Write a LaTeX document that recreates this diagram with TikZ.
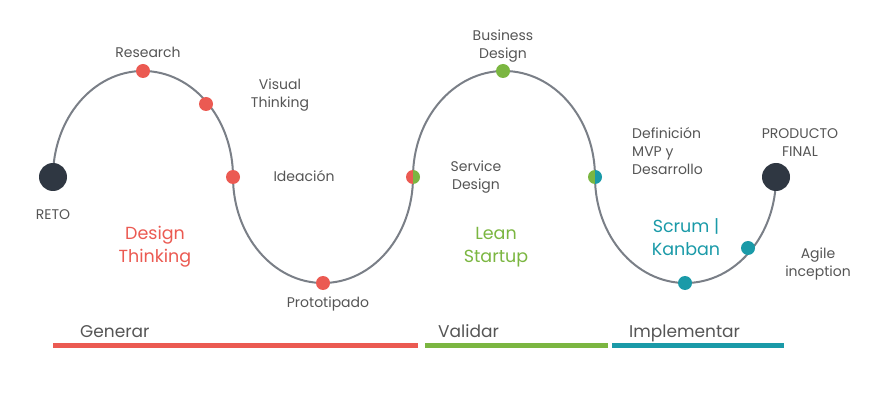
\documentclass[tikz,border=0pt]{standalone}
\usepackage{fontspec}
\setmainfont{Poppins}
\definecolor{cred}{HTML}{EB5A52}
\definecolor{cgreen}{HTML}{7BB641}
\definecolor{cteal}{HTML}{1A9AA8}
\definecolor{cdark}{HTML}{2F3742}
\definecolor{cline}{HTML}{7A7F87}
\definecolor{ctext}{HTML}{555555}
\tikzset{
  dot/.style={circle,fill=#1,inner sep=0pt,minimum size=14pt},
  bigdot/.style={circle,fill=cdark,inner sep=0pt,minimum size=28pt},
  lbl/.style={text=ctext,font=\fontsize{14}{18}\selectfont,align=center,inner sep=0pt},
  biglbl/.style={text=#1,font=\fontsize{17.5}{23}\selectfont,align=center,inner sep=0pt},
  phase/.style={text=ctext,font=\fontsize{17}{19}\selectfont,anchor=base west,inner sep=0pt},
  bar/.style={line width=5pt,draw=#1},
  wave/.style={draw=cline,line width=2pt}
}
\begin{document}
\begin{tikzpicture}[x=1pt,y=-1pt]
\useasboundingbox (0,0) rectangle (883,395);
% anchor points of the wave
\coordinate (p0) at (53,177);
\coordinate (p1) at (233,177);
\coordinate (p2) at (413,177);
\coordinate (p3) at (595,177);
\coordinate (p4) at (776,177);
% wave
\draw[wave] (p0) arc[start angle=180,end angle=0,x radius=90pt,y radius=106pt]
  (p1) arc[start angle=180,end angle=360,x radius=90pt,y radius=106pt]
  (p2) arc[start angle=180,end angle=0,x radius=91pt,y radius=106pt]
  (p3) arc[start angle=180,end angle=360,x radius=90.5pt,y radius=106pt];
% endpoints
\node[bigdot] (reto) at (p0) {};
\node[bigdot] (final) at (p4) {};
% red dots
\node[dot=cred] (research) at (143,71) {};
\node[dot=cred] (visual) at (206,104) {};
\node[dot=cred] (ideacion) at (p1) {};
\node[dot=cred] (proto) at (323,283) {};
% split dots
\fill[cred] (p2) ++(0,-7) arc[start angle=90,end angle=270,radius=7pt] -- cycle;
\fill[cgreen] (p2) ++(0,-7) arc[start angle=90,end angle=-90,radius=7pt] -- cycle;
\node[inner sep=0pt,minimum size=14pt] (service) at (p2) {};
\fill[cgreen] (p3) ++(0,-7) arc[start angle=90,end angle=270,radius=7pt] -- cycle;
\fill[cteal] (p3) ++(0,-7) arc[start angle=90,end angle=-90,radius=7pt] -- cycle;
\node[inner sep=0pt,minimum size=14pt] (mvp) at (p3) {};
% green/teal dots
\node[dot=cgreen] (business) at (503,71) {};
\node[dot=cteal] (scrum) at (685,283) {};
\node[dot=cteal] (agile) at (748,248) {};
% labels
\node[lbl] (tresearch) at (148,52) {Research};
\node[lbl] (tvisual) at (280,95) {Visual\\Thinking};
\node[lbl] (tideacion) at (304,176) {Ideación};
\node[lbl] (tproto) at (328,304) {Prototipado};
\node[lbl] (treto) at (53,215) {RETO};
\node[lbl] (tservice) at (476,177) {Service\\Design};
\node[lbl] (tbusiness) at (503,46) {Business\\Design};
\node[lbl,align=left,anchor=west] (tmvp) at (632,151) {Definición\\MVP y\\Desarrollo};
\node[lbl] (tfinal) at (800,143) {PRODUCTO\\FINAL};
\node[lbl] (tagile) at (818,264) {Agile\\inception};
\node[biglbl=cred] (tdt) at (155,247) {Design\\Thinking};
\node[biglbl=cgreen] (tls) at (496,247) {Lean\\Startup};
\node[biglbl=cteal] (tsk) at (686,237) {Scrum |\\Kanban};
% phases
\node[phase] (gen) at (80,337) {Generar};
\node[phase] (val) at (438,337) {Validar};
\node[phase] (imp) at (629,337) {Implementar};
\coordinate (b0) at (53,345);
\coordinate (b1) at (418,345);
\coordinate (b2) at (425,345);
\coordinate (b3) at (608,345);
\coordinate (b4) at (612,345);
\coordinate (b5) at (784,345);
\draw[bar=cred] (b0) -- (b1);
\draw[bar=cgreen] (b2) -- (b3);
\draw[bar=cteal] (b4) -- (b5);
\end{tikzpicture}
\end{document}
